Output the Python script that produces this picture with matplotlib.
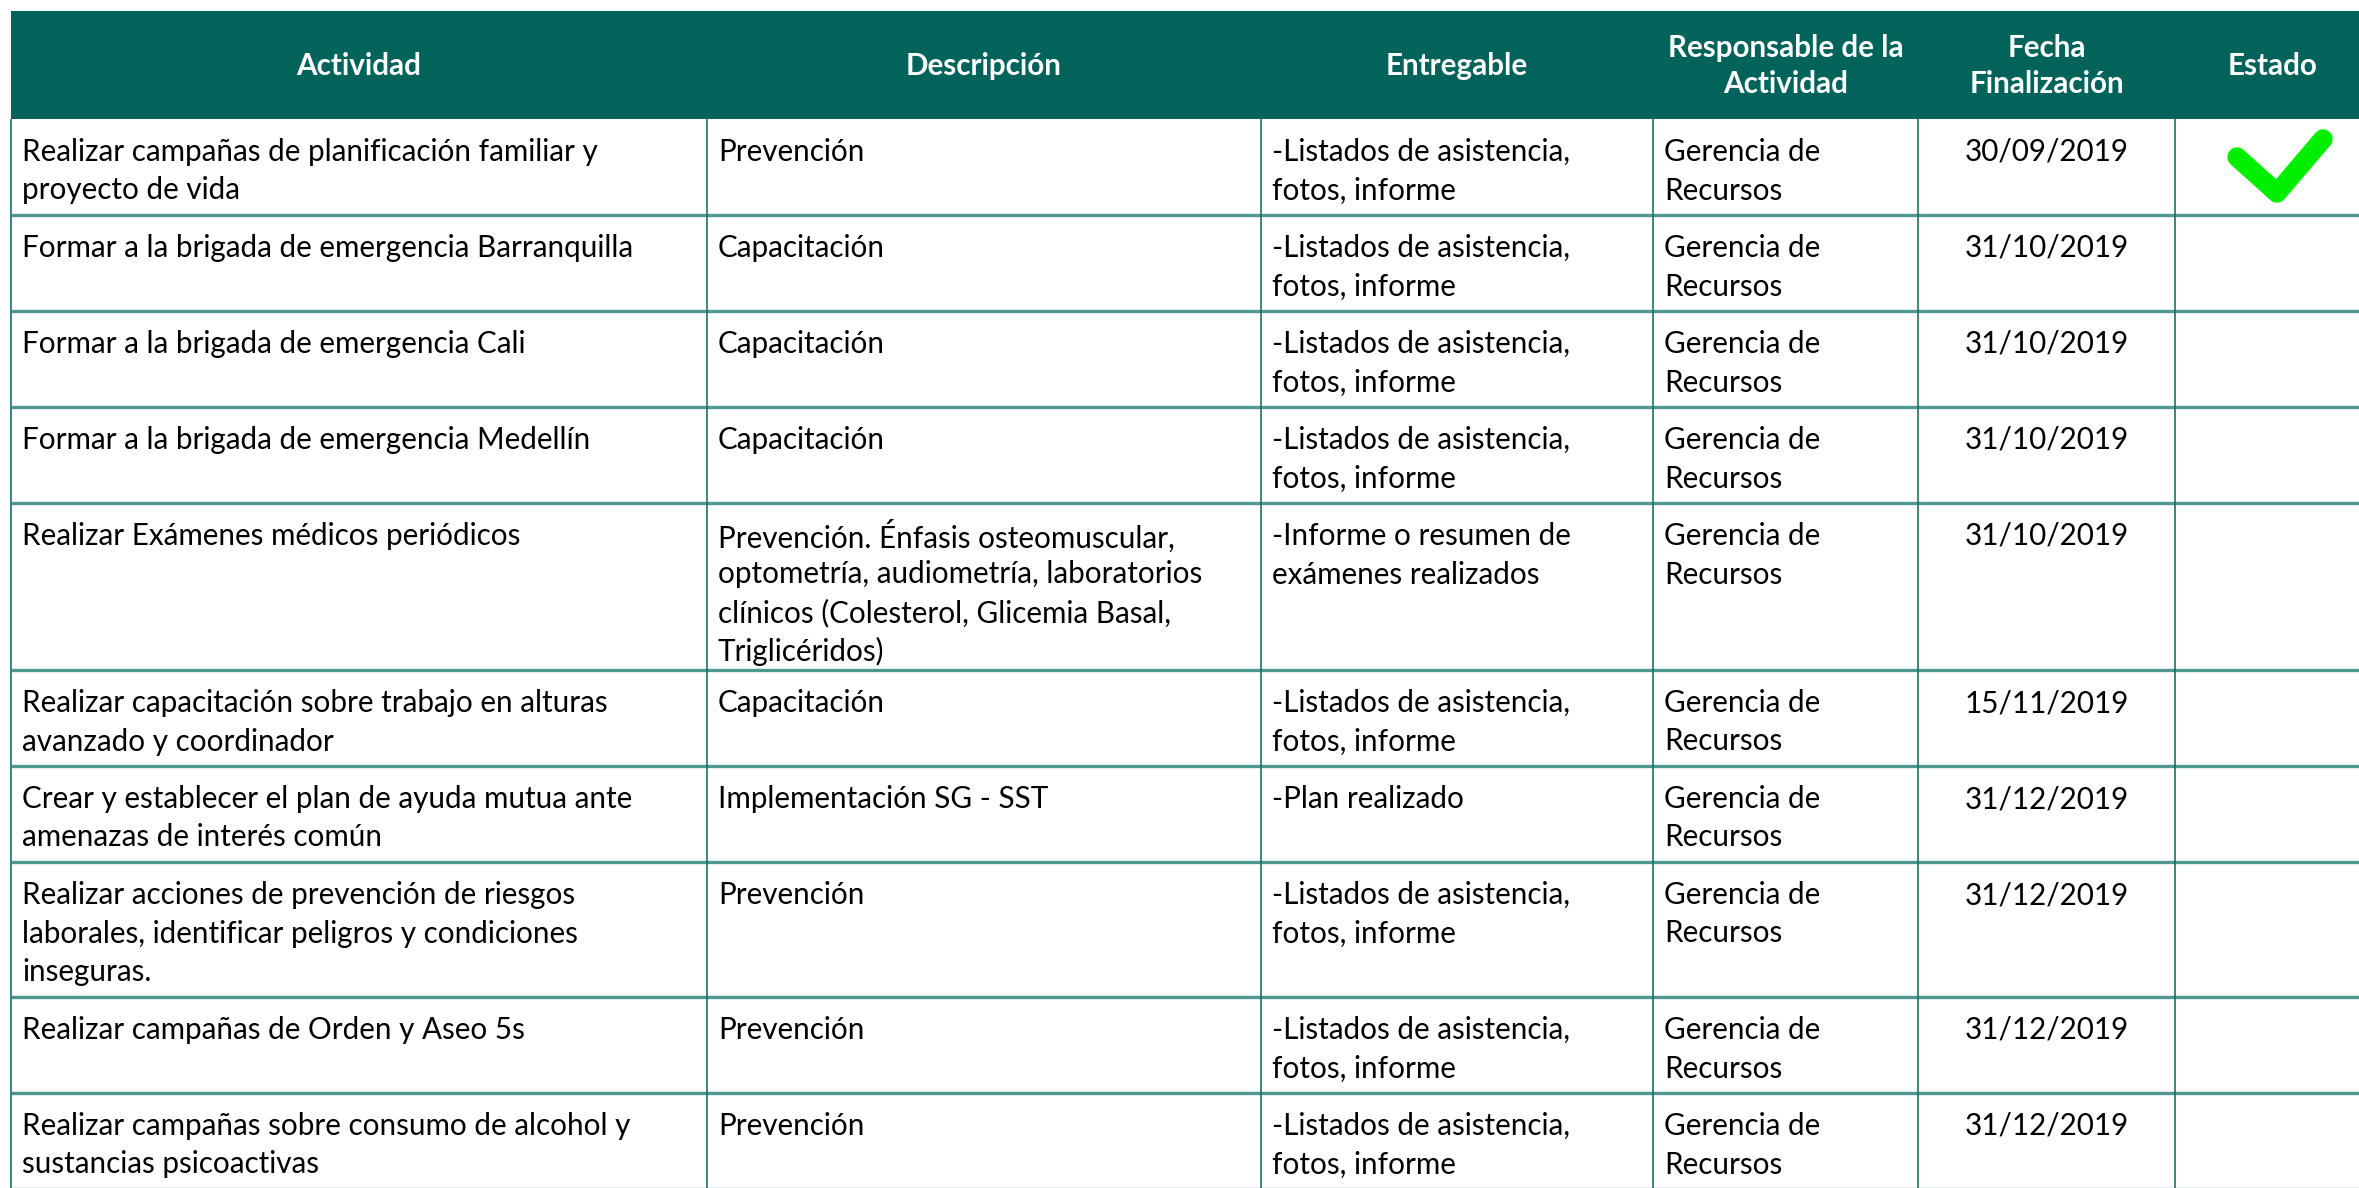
import matplotlib.pyplot as plt
from matplotlib.patches import Rectangle

# -- table content
headers = ["Actividad", "Descripción", "Entregable",
           "Responsable de la\nActividad", "Fecha\nFinalización", "Estado"]

actividades = ["Realizar campañas de planificación familiar y\nproyecto de vida",
               "Formar a la brigada de emergencia Barranquilla",
               "Formar a la brigada de emergencia Cali",
               "Formar a la brigada de emergencia Medellín",
               "Realizar Exámenes médicos periódicos",
               "Realizar capacitación sobre trabajo en alturas\navanzado y coordinador",
               "Crear y establecer el plan de ayuda mutua ante\namenazas de interés común",
               "Realizar acciones de prevención de riesgos\nlaborales, identificar peligros y condiciones\ninseguras.",
               "Realizar campañas de Orden y Aseo 5s",
               "Realizar campañas sobre consumo de alcohol y\nsustancias psicoactivas"]

descripciones = ["Prevención", "Capacitación", "Capacitación", "Capacitación",
                 "Prevención. Énfasis osteomuscular,\noptometría, audiometría, laboratorios\nclínicos (Colesterol, Glicemia Basal,\nTriglicéridos)",
                 "Capacitación", "Implementación SG - SST", "Prevención",
                 "Prevención", "Prevención"]

listados = "-Listados de asistencia,\nfotos, informe"
entregables = [listados, listados, listados, listados,
               "-Informe o resumen de\nexámenes realizados",
               listados, "-Plan realizado", listados, listados, listados]

responsables = ["Gerencia de\nRecursos"] * 10

fechas = ["30/09/2019", "31/10/2019", "31/10/2019", "31/10/2019", "31/10/2019",
          "15/11/2019", "31/12/2019", "31/12/2019", "31/12/2019", "31/12/2019"]

estados = [True, False, False, False, False, False, False, False, False, False]

# -- layout (pixels)
W, H = 2359, 1188
col_edges = [11, 707, 1261, 1653, 1918, 2175, 2371]
header_top, header_bot = 11, 119
row_heights = [96, 96, 96, 96, 167, 96, 96, 135, 96, 96]
line_h = 38.5
pad_x = 11
first_line = 33

header_col = "#02635b"
hline_col = "#4f9791"
vline_col = "#1d6f68"
font = "Lato"
fs = 21.3

fig = plt.figure(figsize=(W / 100, H / 100), dpi=100)
ax = fig.add_axes([0, 0, 1, 1])
ax.set_xlim(0, W)
ax.set_ylim(H, 0)
ax.axis("off")

# header
ax.add_patch(Rectangle((col_edges[0], header_top), col_edges[-1] - col_edges[0],
                       header_bot - header_top, color=header_col, lw=0))
for i, h in enumerate(headers):
    cx = (col_edges[i] + col_edges[i + 1]) / 2
    lines = h.split("\n")
    cy = (header_top + header_bot) / 2 + 1
    for j, ln in enumerate(lines):
        y = cy + (j - (len(lines) - 1) / 2) * 36
        ax.text(cx, y, ln, color="white", fontsize=fs, fontweight="bold",
                family=font, ha="center", va="center")

# rows
row_tops = [header_bot]
for rh in row_heights:
    row_tops.append(row_tops[-1] + rh)
bottom = row_tops[-1]

columns = [actividades, descripciones, entregables, responsables]
for r in range(len(actividades)):
    top = row_tops[r]
    for c, col in enumerate(columns):
        for j, ln in enumerate(col[r].split("\n")):
            ax.text(col_edges[c] + pad_x, top + first_line + j * line_h, ln,
                    fontsize=fs, family=font, color="black", ha="left", va="center")
    ax.text((col_edges[4] + col_edges[5]) / 2, top + first_line, fechas[r],
            fontsize=fs, family=font, color="black", ha="center", va="center")
    if estados[r]:
        cx = (col_edges[5] + col_edges[6]) / 2
        ax.plot([cx - 36, cx + 4, cx + 50], [top + 38, top + 74, top + 20],
                color="#00ee00", lw=14, solid_capstyle="round",
                solid_joinstyle="round")

# grid lines
ax.hlines(row_tops[1:], col_edges[0], col_edges[-1], color=hline_col, lw=2.4)
ax.vlines(col_edges[:-1], header_bot, bottom, color=vline_col, lw=1.2)

fig.savefig("out.png", dpi=100)
